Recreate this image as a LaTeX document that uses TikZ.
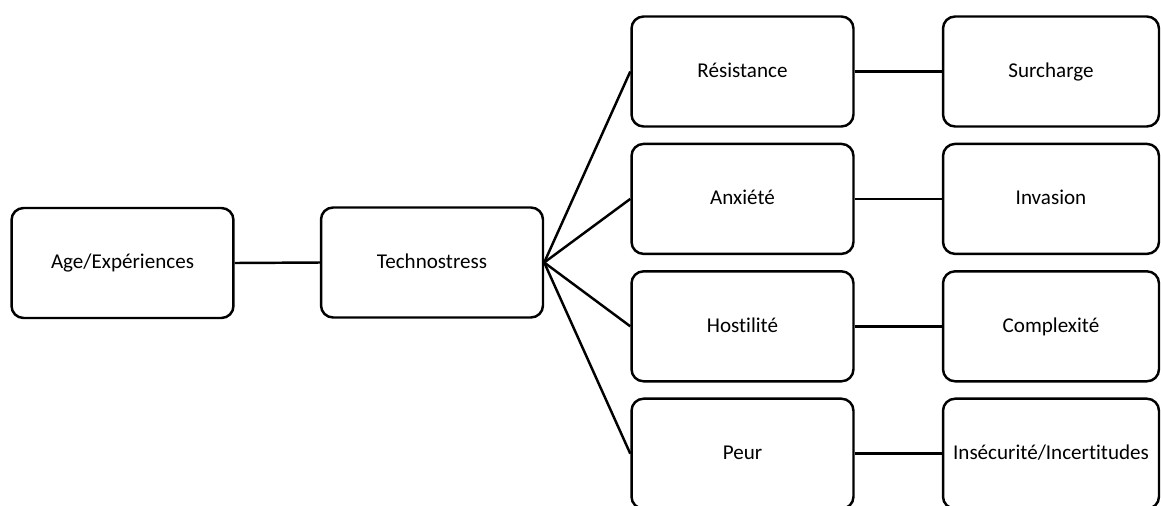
\documentclass[tikz,border=0pt]{standalone}
\usepackage{fontspec}
\setmainfont{Carlito}[Ligatures=NoCommon]
\usepackage{tikz}

\begin{document}
\begin{tikzpicture}[x=0.02cm,y=-0.02cm,
   box/.style={rectangle,draw,rounded corners=0.24cm,line width=1.4pt,
    minimum width=4.44cm,minimum height=2.2cm,inner sep=+0.1cm,
    text height=1.5ex,text depth=0.1ex,
    font=\fontsize{12}{14}\selectfont},
   link/.style={line width=1.4pt}
    ]
  \useasboundingbox (0,0) rectangle (1161,505);

  % -- left part
  \node[box] at (122.5,263) (age) {Age/Expériences};
  \node[box] at (432,262.5) (techno) {Technostress};

  % -- middle column
  \node[box] at (742.5,71.5) (res) {Résistance};
  \node[box] at (742.5,198.9) (anx) {Anxiété};
  \node[box] at (742.5,326.3) (hos) {Hostilité};
  \node[box] at (742.5,453.7) (peur) {Peur};

  % -- right column
  \node[box,minimum width=4.32cm] at (1051,71.5) (sur) {Surcharge};
  \node[box,minimum width=4.32cm] at (1051,198.9) (inv) {Invasion};
  \node[box,minimum width=4.32cm] at (1051,326.3) (comp) {Complexité};
  \node[box,minimum width=4.32cm] at (1051,453.7) (insec) {Insécurité/Incertitudes};

  % -- links
  \draw[link] (age.east) -- (techno.west);
  \draw[link] (techno.east) -- (res.west);
  \draw[link] (techno.east) -- (anx.west);
  \draw[link] (techno.east) -- (hos.west);
  \draw[link] (techno.east) -- (peur.west);
  \draw[link] (res.east) -- (sur.west);
  \draw[link] (anx.east) -- (inv.west);
  \draw[link] (hos.east) -- (comp.west);
  \draw[link] (peur.east) -- (insec.west);

\end{tikzpicture}
\end{document}
